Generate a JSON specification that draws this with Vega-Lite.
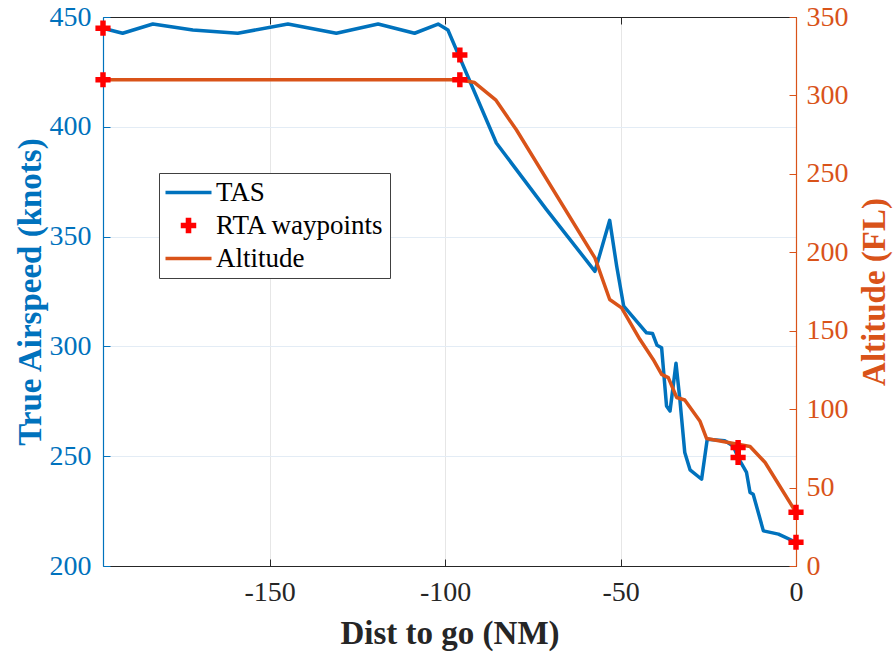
{
  "$schema": "https://vega.github.io/schema/vega-lite/v6.json",
  "width": 693,
  "height": 549,
  "autosize": {"type": "none"},
  "padding": {"left": 103, "top": 17, "right": 97, "bottom": 86},
  "background": "white",
  "config": {
    "view": {"stroke": null},
    "font": "Liberation Serif",
    "axis": {
      "labelFont": "Liberation Serif",
      "titleFont": "Liberation Serif",
      "labelFontSize": 28,
      "titleFontSize": 33,
      "titleFontWeight": "bold",
      "tickSize": -7,
      "tickWidth": 1,
      "domainWidth": 1.2,
      "labelFlush": false
    },
    "legend": {
      "labelFont": "Liberation Serif",
      "labelFontSize": 27,
      "labelColor": "black",
      "labelLimit": 500
    }
  },
  "datasets": {
    "tas": [
      {"dist": -197.5, "tas": 444.9},
      {"dist": -191.9, "tas": 442.6},
      {"dist": -183.3, "tas": 446.8},
      {"dist": -171.9, "tas": 444.1},
      {"dist": -159.1, "tas": 442.6},
      {"dist": -144.8, "tas": 446.8},
      {"dist": -131.0, "tas": 442.6},
      {"dist": -119.1, "tas": 446.8},
      {"dist": -108.7, "tas": 442.6},
      {"dist": -102.0, "tas": 446.8},
      {"dist": -99.2, "tas": 444.1},
      {"dist": -85.4, "tas": 392.6},
      {"dist": -71.1, "tas": 362.3},
      {"dist": -57.3, "tas": 334.2},
      {"dist": -53.1, "tas": 357.4},
      {"dist": -51.1, "tas": 336.5},
      {"dist": -49.1, "tas": 318.3},
      {"dist": -42.6, "tas": 306.2},
      {"dist": -40.9, "tas": 305.9},
      {"dist": -39.6, "tas": 300.5},
      {"dist": -38.3, "tas": 299.4},
      {"dist": -36.9, "tas": 272.9},
      {"dist": -35.9, "tas": 270.6},
      {"dist": -35.0, "tas": 282.0},
      {"dist": -34.2, "tas": 292.3},
      {"dist": -33.1, "tas": 275.9},
      {"dist": -31.7, "tas": 251.7},
      {"dist": -30.2, "tas": 243.8},
      {"dist": -26.9, "tas": 239.5},
      {"dist": -25.3, "tas": 257.7},
      {"dist": -20.3, "tas": 257.0},
      {"dist": -17.9, "tas": 254.7},
      {"dist": -16.5, "tas": 249.4},
      {"dist": -14.1, "tas": 242.6},
      {"dist": -13.1, "tas": 233.5},
      {"dist": -12.2, "tas": 232.7},
      {"dist": -9.3, "tas": 216.0},
      {"dist": -5.0, "tas": 214.5},
      {"dist": 0, "tas": 210.8}
    ],
    "alt": [
      {"dist": -197.5, "alt": 310},
      {"dist": -95.8, "alt": 310},
      {"dist": -91.6, "alt": 308.2},
      {"dist": -85.6, "alt": 297.2},
      {"dist": -79.7, "alt": 278.1},
      {"dist": -57.3, "alt": 196.4},
      {"dist": -53.1, "alt": 169.9},
      {"dist": -49.7, "alt": 164.6},
      {"dist": -44.5, "alt": 144.5},
      {"dist": -40.7, "alt": 131.7},
      {"dist": -38.3, "alt": 122.2},
      {"dist": -36.4, "alt": 120.1},
      {"dist": -34.0, "alt": 107.4},
      {"dist": -31.7, "alt": 105.8},
      {"dist": -27.4, "alt": 92.5},
      {"dist": -25.5, "alt": 81.3},
      {"dist": -13.1, "alt": 76.2},
      {"dist": -8.8, "alt": 66.0},
      {"dist": 0, "alt": 34.2}
    ],
    "rta": [
      {"dist": -197.5, "tas": 444.9, "alt": 310},
      {"dist": -95.8, "tas": 432.7, "alt": 310},
      {"dist": -16.5, "tas": 249.4, "alt": 75.5},
      {"dist": 0, "tas": 210.8, "alt": 34.2}
    ]
  },
  "resolve": {"scale": {"y": "independent"}, "axis": {"x": "independent", "y": "independent"}},
  "layer": [
    {
      "data": {"name": "tas"},
      "mark": {"type": "line", "strokeWidth": 3.5, "strokeJoin": "round", "clip": false},
      "encoding": {
        "x": {
          "field": "dist", "type": "quantitative",
          "scale": {"domain": [-197.5, 0], "nice": false, "zero": false},
          "axis": {
            "orient": "bottom",
            "values": [-150, -100, -50, 0],
            "labelExpr": "datum.value < 0 ? '-' + abs(datum.value) : '' + datum.value",
            "labelFont": "Liberation Serif",
            "titleFont": "Liberation Serif",
            "title": "Dist to go (NM)",
            "titleColor": "#262626",
            "labelColor": "#262626",
            "domainColor": "#262626",
            "tickColor": "#262626",
            "labelPadding": 19,
            "labelFlush": false,
            "titleY": 77,
            "titleBaseline": "alphabetic",
            "grid": true,
            "gridColor": "#e6e6e6",
            "gridWidth": 1
          }
        },
        "y": {
          "field": "tas", "type": "quantitative",
          "scale": {"domain": [200, 450], "nice": false, "zero": false},
          "axis": {
            "orient": "left",
            "values": [200, 250, 300, 350, 400, 450],
            "labelFont": "Liberation Serif",
            "titleFont": "Liberation Serif",
            "title": "True Airspeed (knots)",
            "titleColor": "#0072BD",
            "labelColor": "#0072BD",
            "domainColor": "#0072BD",
            "tickColor": "#0072BD",
            "labelPadding": 19,
            "labelFlush": false,
            "titleAngle": 270,
            "titleX": -63,
            "titleY": 274.5,
            "titleBaseline": "alphabetic",
            "titleAlign": "center",
            "grid": true,
            "gridColor": "#e3ecf5",
            "gridWidth": 1
          }
        },
        "color": {
          "datum": "TAS",
          "type": "nominal",
          "scale": {"domain": ["TAS", "RTA waypoints", "Altitude"], "range": ["#0072BD", "#FF0000", "#D95319"]},
          "legend": {
            "orient": "none",
            "legendX": 56,
            "legendY": 156,
            "title": null,
            "strokeColor": "#404040",
            "fillColor": "white",
            "padding": 6,
            "symbolSize": 2116,
            "symbolOffset": 10,
            "labelOffset": 14,
            "rowPadding": 5,
            "labelLimit": 500,
            "encode": {
              "symbols": {
                "update": {
                  "shape": {"signal": "datum.value === 'RTA waypoints' ? 'M-0.36,-1H0.36V-0.36H1V0.36H0.36V1H-0.36V0.36H-1V-0.36H-0.36Z' : 'stroke'"},
                  "size": {"signal": "datum.value === 'RTA waypoints' ? 240 : 2116"},
                  "strokeWidth": {"signal": "datum.value === 'RTA waypoints' ? 0 : 3.5"},
                  "fill": {"signal": "datum.value === 'RTA waypoints' ? '#FF0000' : 'transparent'"},
                  "stroke": {"signal": "datum.value === 'TAS' ? '#0072BD' : datum.value === 'Altitude' ? '#D95319' : 'transparent'"},
                  "opacity": {"value": 1}
                }
              }
            }
          }
        }
      }
    },
    {
      "data": {"name": "alt"},
      "mark": {"type": "line", "strokeWidth": 3.5, "strokeJoin": "round", "clip": false},
      "encoding": {
        "x": {
          "field": "dist", "type": "quantitative",
          "axis": {
            "orient": "top",
            "values": [-150, -100, -50, 0],
            "labels": false,
            "title": null,
            "domainColor": "#262626",
            "tickColor": "#262626",
            "grid": false
          }
        },
        "y": {
          "field": "alt", "type": "quantitative",
          "scale": {"domain": [0, 350], "nice": false, "zero": false},
          "axis": {
            "orient": "right",
            "values": [0, 50, 100, 150, 200, 250, 300, 350],
            "labelFont": "Liberation Serif",
            "titleFont": "Liberation Serif",
            "title": "Altitude (FL)",
            "titleColor": "#D95319",
            "labelColor": "#D95319",
            "domainColor": "#D95319",
            "tickColor": "#D95319",
            "labelPadding": 17,
            "labelFlush": false,
            "titleAngle": 270,
            "titleX": 88,
            "titleY": 274.5,
            "titleBaseline": "alphabetic",
            "titleAlign": "center",
            "grid": false
          }
        },
        "color": {"datum": "Altitude", "type": "nominal"}
      }
    },
    {
      "data": {"name": "rta"},
      "mark": {"type": "point", "filled": true, "opacity": 1, "strokeWidth": 0, "size": 230, "clip": false,
               "shape": "M-0.36,-1H0.36V-0.36H1V0.36H0.36V1H-0.36V0.36H-1V-0.36H-0.36Z"},
      "encoding": {
        "x": {"field": "dist", "type": "quantitative", "axis": null},
        "y": {"field": "tas", "type": "quantitative", "scale": {"domain": [200, 450], "nice": false, "zero": false}, "axis": null},
        "color": {"datum": "RTA waypoints", "type": "nominal"}
      }
    },
    {
      "data": {"name": "rta"},
      "mark": {"type": "point", "filled": true, "opacity": 1, "strokeWidth": 0, "size": 230, "clip": false,
               "shape": "M-0.36,-1H0.36V-0.36H1V0.36H0.36V1H-0.36V0.36H-1V-0.36H-0.36Z"},
      "encoding": {
        "x": {"field": "dist", "type": "quantitative", "axis": null},
        "y": {"field": "alt", "type": "quantitative", "scale": {"domain": [0, 350], "nice": false, "zero": false}, "axis": null},
        "color": {"datum": "RTA waypoints", "type": "nominal"}
      }
    }
  ]
}
